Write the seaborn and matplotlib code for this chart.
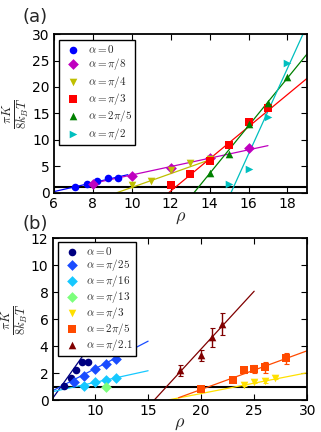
import matplotlib
matplotlib.use("Agg")
import matplotlib.pyplot as plt
import seaborn as sns

sns.set_style("ticks")
plt.rcParams['font.family'] = ['DejaVu Sans']
plt.rcParams['mathtext.fontset'] = 'cm'

# ---- panel (a) data ----
labels_a = [r'$\alpha=0$', r'$\alpha=\pi/8$', r'$\alpha=\pi/4$',
            r'$\alpha=\pi/3$', r'$\alpha=2\pi/5$', r'$\alpha=\pi/2$']
colors_a = ['#0000ff', '#bf00bf', '#bfbf00', '#ff0000', '#008000', '#00bfbf']
markers_a = ['o', 'D', 'v', 's', '^', '>']

rho_a = [
    [7.1, 7.7, 8.2, 8.8, 9.3],
    [8, 10, 12, 14, 16],
    [10, 11, 12, 13, 14],
    [12, 13, 14, 15, 16, 17],
    [14, 15, 16, 17, 18],
    [15, 16, 17, 18],
]
k_a = [
    [1.1, 1.6, 2.2, 2.8, 2.8],
    [1.6, 3.2, 4.7, 6.5, 8.4],
    [1.5, 2.3, 4.2, 5.6, 6.4],
    [1.5, 3.5, 5.9, 9.0, 13.3, 16.0],
    [3.8, 7.3, 13.0, 16.9, 21.9],
    [1.6, 4.4, 14.4, 24.6],
]
# fitted lines (end points)
fit_x_a = [[6, 9.8], [7.6, 17], [9.24, 14.3], [11.9, 19], [13.2, 19], [15.1, 18.8]]
fit_y_a = [[0.2, 3.4], [1.45, 8.9], [0, 6.6], [0, 21.6], [0, 26.2], [0, 30]]

# ---- panel (b) data ----
labels_b = [r'$\alpha=0$', r'$\alpha=\pi/25$', r'$\alpha=\pi/16$', r'$\alpha=\pi/13$',
            r'$\alpha=\pi/3$', r'$\alpha=2\pi/5$', r'$\alpha=\pi/2.1$']
colors_b = ['#000080', '#1a4cff', '#16c8ff', '#7cff7c', '#ffe000', '#ff4a00', '#800000']
markers_b = ['o', 'D', 'D', 'D', 'v', 's', '^']

rho_b = [
    [7.1, 7.7, 8.2, 8.8, 9.3],
    [8, 9, 10, 11, 12],
    [9, 10, 11, 12],
    [11],
    [24, 25, 26, 27],
    [20, 23, 24, 25, 26, 28],
    [18, 20, 21, 22],
]
k_b = [
    [1.05, 1.6, 2.2, 2.8, 2.8],
    [1.3, 1.75, 2.3, 2.68, 3.03],
    [1.05, 1.37, 1.52, 1.65],
    [0.95],
    [1.11, 1.36, 1.41, 1.65],
    [0.81, 1.45, 2.22, 2.32, 2.42, 3.09],
    [2.2, 3.3, 4.64, 5.63],
]
err_b = [
    None,
    None,
    None,
    None,
    [0.08, 0.12, 0.12, 0.12],
    [0.05, 0.08, 0.2, 0.3, 0.4, 0.42],
    [0.42, 0.4, 0.68, 0.82],
]
fit_x_b = [[6, 9.16], [6, 15], [6, 15], None, [16.87, 30], [17.87, 30], [15.58, 25]]
fit_y_b = [[0.12, 3.62], [0.69, 4.36], [0.62, 2.17], None, [0, 2.02], [0.17, 3.65], [0, 8.06]]

ylab = r'$\frac{\pi K}{8k_BT}$'

fig = plt.figure(figsize=(3.21, 4.32), dpi=100)
ax_a = fig.add_axes([0.168, 0.554, 0.788, 0.367])
ax_b = fig.add_axes([0.164, 0.074, 0.793, 0.375])


def style_axes(ax):
    for s in ax.spines.values():
        s.set_linewidth(1.3)
        s.set_color('k')
    ax.tick_params(direction='in', top=True, right=True, length=4, width=0.8,
                   labelsize=10, pad=3, colors='k')
    ax.axhline(1, color='k', lw=1.5, zorder=1)


def add_legend(ax, anchor, spacing, pad):
    leg = ax.legend(loc='upper left', fontsize=8, frameon=True, fancybox=False,
                    edgecolor='k', framealpha=1, labelspacing=spacing, handletextpad=0.3,
                    borderpad=pad, handlelength=2.0, borderaxespad=0,
                    bbox_to_anchor=anchor)
    leg.get_frame().set_linewidth(1.0)
    leg.set_zorder(10)


# Panel (a)
for i in range(len(labels_a)):
    ax_a.plot(fit_x_a[i], fit_y_a[i], color=colors_a[i], lw=0.9, zorder=2)
    sns.scatterplot(x=rho_a[i], y=k_a[i], color=colors_a[i], marker=markers_a[i],
                    s=30, linewidth=0, label=labels_a[i], ax=ax_a, zorder=3)
ax_a.set_xlim(6, 19)
ax_a.set_ylim(0, 30)
ax_a.set_xticks([6, 8, 10, 12, 14, 16, 18])
ax_a.set_yticks([0, 5, 10, 15, 20, 25, 30])
ax_a.set_xlabel(r'$\rho$', fontsize=13, labelpad=-2)
ax_a.set_ylabel(ylab, fontsize=13, labelpad=0)
style_axes(ax_a)
add_legend(ax_a, (0.02, 0.965), 0.12, 0.3)

# Panel (b)
for i in range(len(labels_b)):
    if fit_x_b[i] is not None:
        ax_b.plot(fit_x_b[i], fit_y_b[i], color=colors_b[i], lw=0.9, zorder=2)
    if err_b[i] is not None:
        ax_b.errorbar(rho_b[i], k_b[i], yerr=err_b[i], fmt='none', ecolor=colors_b[i],
                      elinewidth=1.0, capsize=1.8, capthick=0.8, zorder=3)
    sns.scatterplot(x=rho_b[i], y=k_b[i], color=colors_b[i], marker=markers_b[i],
                    s=30, linewidth=0, label=labels_b[i], ax=ax_b, zorder=4)
ax_b.set_xlim(6, 30)
ax_b.set_ylim(0, 12)
ax_b.set_xticks([10, 15, 20, 25, 30])
ax_b.set_yticks([0, 2, 4, 6, 8, 10, 12])
ax_b.set_xlabel(r'$\rho$', fontsize=13, labelpad=-3)
ax_b.set_ylabel(ylab, fontsize=13, labelpad=0)
style_axes(ax_b)
add_legend(ax_b, (0.02, 0.975), 0.0, 0.25)

fig.text(0.07, 0.982, '(a)', fontsize=13, va='top', ha='left')
fig.text(0.07, 0.502, '(b)', fontsize=13, va='top', ha='left')

fig.savefig('out.png', dpi=100)
